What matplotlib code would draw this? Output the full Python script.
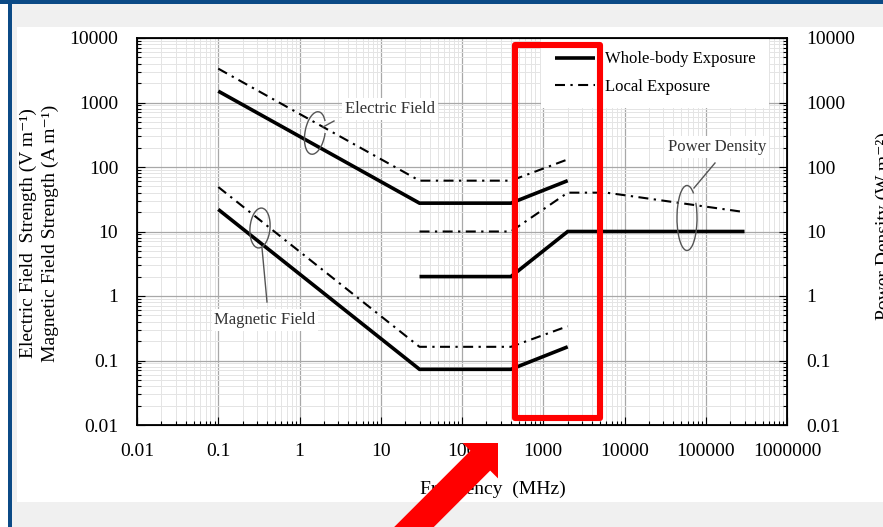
import matplotlib
matplotlib.use('Agg')
import matplotlib.pyplot as plt
from matplotlib.patches import Rectangle, Arc, Polygon
from matplotlib.lines import Line2D
from matplotlib.transforms import IdentityTransform
from matplotlib.ticker import FixedLocator, LogLocator, NullFormatter, FixedFormatter

plt.rcParams['font.family'] = ['Liberation Serif', 'DejaVu Serif']
plt.rcParams['mathtext.fontset'] = 'stix'

# Data ####################################################
freq_ticks = [0.01, 0.1, 1, 10, 100, 1000, 10000, 100000, 1000000]
freq_labels = ['0.01', '0.1', '1', '10', '100', '1000', '10000', '100000', '1000000']
level_ticks = [0.01, 0.1, 1, 10, 100, 1000, 10000]
level_labels = ['0.01', '0.1', '1', '10', '100', '1000', '10000']

# electric field (V/m)
e_whole_f = [0.1, 30, 400, 2000]
e_whole_v = [1500, 27.5, 27.5, 61.4]
e_local_f = [0.1, 30, 400, 1900]
e_local_v = [3350, 61.4, 61.4, 128]
# magnetic field (A/m)
h_whole_f = [0.1, 30, 400, 2000]
h_whole_v = [22, 0.073, 0.073, 0.163]
h_local_f = [0.1, 30, 400, 2000]
h_local_v = [49, 0.163, 0.163, 0.34]
# power density (W/m2)
s_whole_f = [30, 400, 2000, 300000]
s_whole_v = [2, 2, 10, 10]
s_local_f = [30, 400, 2000, 6000, 300000]
s_local_v = [10, 10, 40, 40, 20]

legend_labels = ['Whole-body Exposure', 'Local Exposure']
###########################################################

W, H = 883, 527
fig = plt.figure(figsize=(W / 100, H / 100), dpi=100, facecolor='#f0f0f0')
ident = IdentityTransform()


def fx(x):
    return x / W


def fy(y):
    return 1 - y / H


# slide background
fig.patches.append(Rectangle((0, 0), fx(8), 1, transform=fig.transFigure,
                             fc='white', ec='none', zorder=-3))
fig.patches.append(Rectangle((fx(17), fy(502)), fx(W - 17), (502 - 27) / H,
                             transform=fig.transFigure, fc='white', ec='none', zorder=-3))
fig.patches.append(Rectangle((0, fy(4)), 1, 4 / H, transform=fig.transFigure,
                             fc='#0b4a86', ec='none', zorder=-2))
fig.patches.append(Rectangle((fx(8), 0), fx(4), 1, transform=fig.transFigure,
                             fc='#0b4a86', ec='none', zorder=-2))

ax = fig.add_axes([fx(137), fy(425), 650 / W, 387 / H])
ax.set_xscale('log')
ax.set_yscale('log')
ax.set_xlim(0.01, 1000000)
ax.set_ylim(0.01, 10000)

solid = dict(color='black', lw=2.6, solid_capstyle='butt', solid_joinstyle='miter')
dashdot = dict(color='black', lw=1.5, ls=(0, (4.8, 2.6, 1.1, 2.6)))

ax.plot(e_whole_f, e_whole_v, **solid)
ax.plot(e_local_f, e_local_v, **dashdot)
ax.plot(h_whole_f, h_whole_v, **solid)
ax.plot(h_local_f, h_local_v, **dashdot)
ax.plot(s_whole_f, s_whole_v, **solid)
ax.plot(s_local_f, s_local_v, **dashdot)

ax.xaxis.set_major_locator(FixedLocator(freq_ticks))
ax.xaxis.set_major_formatter(FixedFormatter(freq_labels))
ax.xaxis.set_minor_locator(LogLocator(base=10, subs=range(2, 10), numticks=20))
ax.xaxis.set_minor_formatter(NullFormatter())
ax.yaxis.set_major_locator(FixedLocator(level_ticks))
ax.yaxis.set_major_formatter(FixedFormatter(level_labels))
ax.yaxis.set_minor_locator(LogLocator(base=10, subs=range(2, 10), numticks=20))
ax.yaxis.set_minor_formatter(NullFormatter())

ax.set_axisbelow(True)
ax.grid(which='major', color='#a8a8a8', lw=0.9)
ax.grid(which='minor', color='#e4e4e4', lw=0.7)

ax.tick_params(which='both', direction='in', top=False, right=False, width=0.8,
               labelsize=14)
ax.tick_params(which='major', length=5.5)
ax.tick_params(which='minor', length=3)
ax.tick_params(axis='x', pad=13)
ax.tick_params(axis='y', pad=13.5)
for s in ax.spines.values():
    s.set_linewidth(1.3)

ax2 = ax.twinx()
ax2.set_yscale('log')
ax2.set_ylim(0.01, 10000)
ax2.yaxis.set_major_locator(FixedLocator(level_ticks))
ax2.yaxis.set_major_formatter(FixedFormatter(level_labels))
ax2.yaxis.set_minor_locator(LogLocator(base=10, subs=range(2, 10), numticks=20))
ax2.yaxis.set_minor_formatter(NullFormatter())
ax2.tick_params(which='both', direction='in', width=0.8, labelsize=14, pad=14)
ax2.tick_params(which='major', length=5.5)
ax2.tick_params(which='minor', length=3)

handles = [Line2D([], [], **solid), Line2D([], [], **dashdot)]
ax.legend(handles, legend_labels, loc='upper left', bbox_to_anchor=(0.622, 1.0),
          fontsize=12, frameon=True, facecolor='white', edgecolor='none',
          framealpha=1, fancybox=False, borderpad=0.8, borderaxespad=0,
          handlelength=2.4, handletextpad=0.6, labelspacing=0.7)

# axis labels
fig.text(fx(28.5), fy(233), 'Electric Field  Strength (V m\u207b\u00b9)', rotation=90,
         ha='center', va='center', fontsize=14)
fig.text(fx(50.5), fy(233), 'Magnetic Field Strength (A m\u207b\u00b9)', rotation=90,
         ha='center', va='center', fontsize=14)
fig.text(fx(876), fy(226), 'Power Density (W m\u207b\u00b2)', rotation=90,
         ha='left', va='center', fontsize=14)
fig.text(fx(493), fy(489), 'Frequency  (MHz)', ha='center', va='center', fontsize=14)

# curve group labels
box = dict(fc='white', ec='none', pad=2)
fig.text(fx(390), fy(109), 'Electric Field', ha='center', va='center',
         fontsize=12, color='#333333', bbox=box)
fig.text(fx(265), fy(320), 'Magnetic Field', ha='center', va='center',
         fontsize=12, color='#333333', bbox=box)
fig.text(fx(717), fy(147), 'Power Density', ha='center', va='center',
         fontsize=12, color='#333333', bbox=box)

ell_col = '#555555'
for (cx, cy, w, h, ang, t1, t2) in [(315, 133, 20, 43, -10, 60, 370),
                                     (260, 228, 20, 40, -5, 0, 360),
                                     (687, 218, 20, 65, 0, 75, 420)]:
    fig.patches.append(Arc((cx, H - cy), w, h, angle=ang, theta1=t1, theta2=t2,
                           transform=ident, color=ell_col, lw=1.0, zorder=5))
for (x0, y0, x1, y1) in [(323, 127, 334, 121), (262, 248, 267, 302), (694, 188, 715, 163)]:
    fig.lines.append(Line2D([x0, x1], [H - y0, H - y1], transform=ident,
                            color=ell_col, lw=1.0, zorder=5))

# red highlight box and arrow
fig.patches.append(Rectangle((515, H - 418), 84.5, 373, transform=ident, fc='none',
                             ec='#ff0000', lw=4.4, joinstyle='round', zorder=10))
arrow = [(382.1, 539.1), (470.4, 450.8), (462.6, 443.0), (498.0, 443.0),
         (498.0, 478.4), (490.2, 470.6), (401.9, 558.9)]
fig.patches.append(Polygon([(x, H - y) for x, y in arrow], closed=True, transform=ident,
                           fc='#ff0000', ec='none', zorder=10))

fig.savefig('out.png', dpi=100, facecolor=fig.get_facecolor())
